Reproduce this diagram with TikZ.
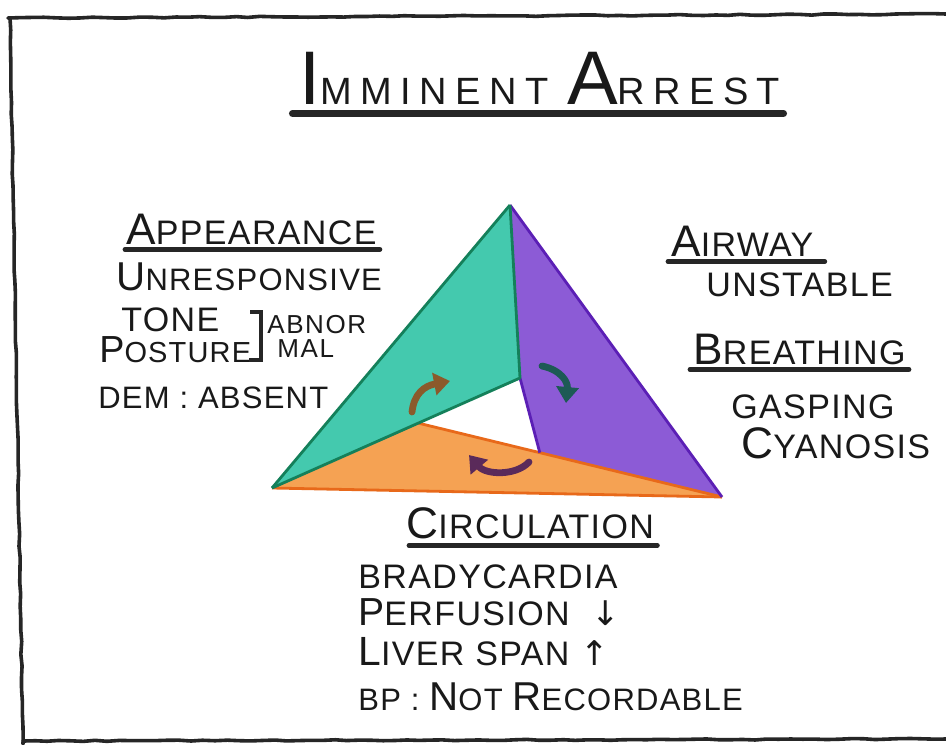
\documentclass[tikz,border=0pt]{standalone}
\usepackage{fontspec}
\usepackage{graphicx}
\usepackage{tikz}
\usetikzlibrary{arrows.meta,calc,decorations.pathmorphing}
\setmainfont{Liberation Sans}
\newfontfamily\arrowfont{DejaVu Sans}
\newcommand\ini[1]{\scalebox{1.3}{#1}}
\newcommand\tini[1]{\scalebox{2}{#1}}
\definecolor{tealF}{HTML}{44C9AE}
\definecolor{tealD}{HTML}{14805A}
\definecolor{purpF}{HTML}{8C5BD6}
\definecolor{purpD}{HTML}{5B1FB5}
\definecolor{orgF}{HTML}{F5A253}
\definecolor{orgD}{HTML}{E8691A}
\definecolor{brwn}{HTML}{8B5A2B}
\definecolor{dteal}{HTML}{1D5A55}
\definecolor{dpurp}{HTML}{5A2A5A}
\tikzset{
  sk/.style={decorate,decoration={random steps,segment length=6pt,
        amplitude=.3pt},line cap=round,line join=round},
  frameline/.style={sk,line width=1.8pt,black!85},
  uline/.style={line width=2.4pt,line cap=round,black!85},
  hText/.style={font=\fontsize{17}{19}\selectfont\addfontfeature{LetterSpace=4},
        anchor=base west,inner sep=0.5pt,text depth=0pt,text=black!90},
  hNarrow/.style={hText,font=\fontsize{15.5}{17}\selectfont\addfontfeature{LetterSpace=4}},
  hSmall/.style={hText,font=\fontsize{13}{14}\selectfont\addfontfeature{LetterSpace=6}},
  hTitle/.style={hText,anchor=base,font=\fontsize{19}{22}\selectfont\addfontfeature{LetterSpace=22}},
  tEdge/.style={line width=1.4pt,line join=round},
  spin/.style={line width=3.4pt,line cap=round,-{Triangle[length=8pt,width=11pt]}},
}
\begin{document}
\begin{tikzpicture}[x=0.5pt,y=-0.5pt]
\useasboundingbox (0,0) rectangle (946,744);
\fill[white] (0,0) rectangle (946,744);
% hand drawn frame
\draw[frameline] (8,18) -- (946,14);
\draw[frameline] (10,18) -- (23,744);
\draw[frameline] (23,741) -- (946,739);

% title
\node[hTitle] (title) at (540,104) {\tini{I}MMINENT \tini{A}RREST};
\draw[uline,line width=3.4pt] ($(title.south west)+(-6,8)$) -- ($(title.south east)+(2,8)$);

% triangle corners
\coordinate (apex) at (510,205);
\coordinate (lc) at (272,488);
\coordinate (rc) at (722,497);
\coordinate (tin) at (520,378);
\coordinate (oin) at ($(lc)!0.59!(tin)$);
\coordinate (pin) at ($(oin)!0.4!(rc)$);

\fill[purpF] (apex) -- (tin) -- (pin) -- (rc) -- cycle;
\fill[tealF] (apex) -- (lc) -- (tin) -- cycle;
\fill[orgF] (lc) -- (oin) -- (rc) -- cycle;
\draw[tEdge,orgD] (lc) -- (rc);
\draw[tEdge,orgD] (oin) -- (rc);
\draw[tEdge,purpD] (apex) -- (rc);
\draw[tEdge,purpD] (tin) -- (pin);
\draw[tEdge,tealD] (apex) -- (lc);
\draw[tEdge,tealD] (lc) -- (tin) -- (apex);

% cycle arrows
\draw[spin,brwn] (412,412) .. controls (414,394) and (424,386) .. (450,381);
\draw[spin,dteal] (542,366) .. controls (561,370) and (568,382) .. (566,403);
\draw[spin,dpurp] (529,462) .. controls (516,476) and (486,475) .. (469,455);

% appearance
\node[hText] (app) at (125,244) {\ini{A}PPEARANCE};
\draw[uline] ($(app.south west)+(0,4)$) -- ($(app.south east)+(2,4)$);
\node[hNarrow] (unr) at (115,290) {\ini{U}NRESPONSIVE};
\node[hText] (tone) at (120,331) {TONE};
\node[hText,font=\fontsize{14.5}{16}\selectfont\addfontfeature{LetterSpace=4}] (post) at (98,362) {\ini{P}OSTURE};
\draw[line width=2pt,black!85] (250,312) -- (261,312) -- (261,360) -- (249,360);
\node[hSmall] (abn) at (266,333) {ABNOR};
\node[hSmall] (mal) at (276,357) {MAL};
\node[hNarrow] (dem) at (97,408) {DEM : ABSENT};

% airway / breathing
\node[hText] (air) at (670,256) {\ini{A}IRWAY};
\draw[uline] ($(air.south west)+(-2,4)$) -- ($(air.south east)+(10,4)$);
\node[hText] (uns) at (705,296) {UNSTABLE};
\node[hText] (brt) at (692,364) {\ini{B}REATHING};
\draw[uline] ($(brt.south west)+(-2,4)$) -- ($(brt.south east)+(2,4)$);
\node[hText] (gsp) at (730,418) {GASPING};
\node[hText] (cya) at (740,458) {\ini{C}YANOSIS};

% circulation
\node[hText] (circ) at (405,538) {\ini{C}IRCULATION};
\draw[uline] ($(circ.south west)+(4,6)$) -- ($(circ.south east)+(2,6)$);
\node[hText] (brd) at (357,588) {BRADYCARDIA};
\node[hText] (prf) at (357,625) {\scalebox{1.15}{P}ERFUSION\ \ {\arrowfont↓}};
\node[hText] (liv) at (357,665) {\scalebox{1.2}{L}IVER SPAN {\arrowfont↑}};
\node[hNarrow] (bp) at (357,710) {BP : \ini{N}OT \ini{R}ECORDABLE};
\end{tikzpicture}
\end{document}
